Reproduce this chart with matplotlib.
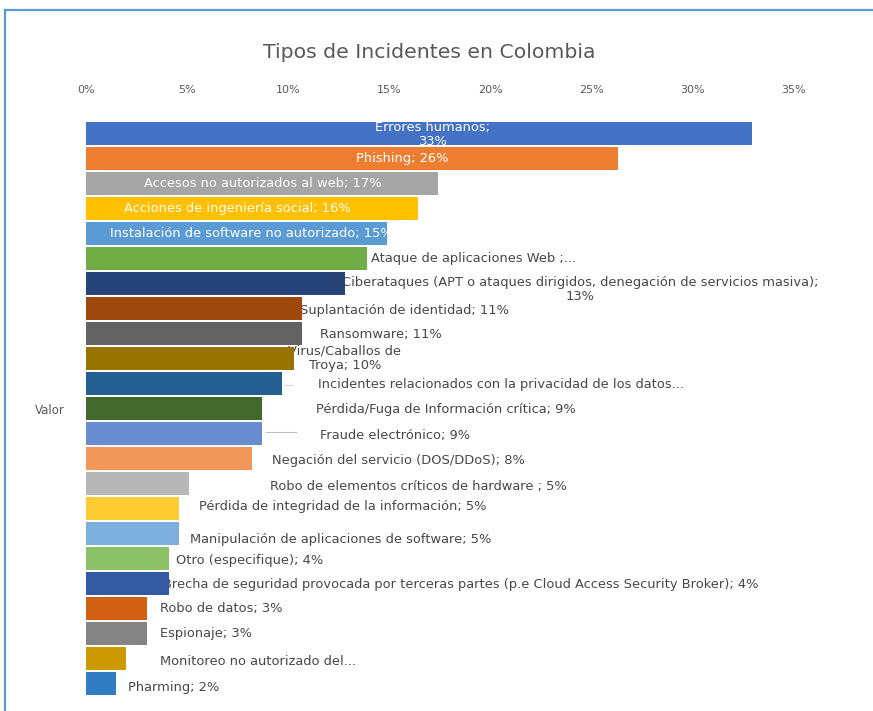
import matplotlib
matplotlib.use("Agg")
import matplotlib.pyplot as plt
from matplotlib.lines import Line2D
from matplotlib.ticker import FuncFormatter

plt.rcParams['font.family'] = ['DejaVu Sans']

# ---------------- data ----------------
categories = [
    "Errores humanos", "Phishing", "Accesos no autorizados al web",
    "Acciones de ingeniería social", "Instalación de software no autorizado",
    "Ataque de aplicaciones Web", "Ciberataques (APT o ataques dirigidos, denegación de servicios masiva)",
    "Suplantación de identidad", "Ransomware", "Virus/Caballos de Troya",
    "Incidentes relacionados con la privacidad de los datos",
    "Pérdida/Fuga de Información crítica", "Fraude electrónico",
    "Negación del servicio (DOS/DDoS)", "Robo de elementos críticos de hardware",
    "Pérdida de integridad de la información", "Manipulación de aplicaciones de software",
    "Otro (especifique)", "Brecha de seguridad provocada por terceras partes (p.e Cloud Access Security Broker)",
    "Robo de datos", "Espionaje", "Monitoreo no autorizado del", "Pharming",
]
values = [32.9, 26.3, 17.4, 16.4, 14.9, 13.9, 12.8, 10.7, 10.7, 10.3, 9.7, 8.7, 8.7,
          8.2, 5.1, 4.6, 4.6, 4.1, 4.1, 3.0, 3.0, 2.0, 1.5]
data_labels = [
    "Errores humanos;\n33%", "Phishing; 26%", "Accesos no autorizados al web; 17%",
    "Acciones de ingeniería social; 16%", "Instalación de software no autorizado; 15%",
    "Ataque de aplicaciones Web ;...",
    "Ciberataques (APT o ataques dirigidos, denegación de servicios masiva);\n13%",
    "Suplantación de identidad; 11%", "Ransomware; 11%", "Virus/Caballos de\nTroya; 10%",
    "Incidentes relacionados con la privacidad de los datos...",
    "Pérdida/Fuga de Información crítica; 9%", "Fraude electrónico; 9%",
    "Negación del servicio (DOS/DDoS); 8%", "Robo de elementos críticos de hardware ; 5%",
    "Pérdida de integridad de la información; 5%", "Manipulación de aplicaciones de software; 5%",
    "Otro (especifique); 4%",
    "Brecha de seguridad provocada por terceras partes (p.e Cloud Access Security Broker); 4%",
    "Robo de datos; 3%", "Espionaje; 3%", "Monitoreo no autorizado del...", "Pharming; 2%",
]
xticks = [0, 5, 10, 15, 20, 25, 30, 35]
title = "Tipos de Incidentes en Colombia"
axis_label = "Valor"

# ---------------- style / layout ----------------
colors = ["#4472C4", "#ED7D31", "#A5A5A5", "#FFC000", "#5B9BD5", "#70AD47",
          "#264478", "#9E480E", "#636363", "#997300", "#255E91", "#43682B",
          "#698ED0", "#F1975A", "#B7B7B7", "#FFCD33", "#7CAFDD", "#8CC168",
          "#335AA1", "#D26012", "#848484", "#CC9A00", "#327DC2"]
# label anchor x (axis percent units), alignment and vertical pixel offset
label_x = [17.15, 15.62, 8.75, 7.46, 8.16, 14.09, 24.42, 10.58, 11.57, 12.80, 11.47, 11.37,
           11.57, 9.19, 9.10, 5.59, 5.14, 4.45, 3.81, 3.66, 3.66, 3.66, 2.08]
label_ha = ["center"] * 5 + ["left", "center", "left", "left", "center"] + ["left"] * 13
label_dy = [1, 0, 0, 0, 0, 0, 6, 2, 1, 0, 1, 1, 2, 2, 3, -2, 6, 2, 1, 0, 0, 3, 4]
inside = [True, True, True, True, True] + [False] * 18

W, H = 873, 711
fig = plt.figure(figsize=(W / 100, H / 100), dpi=100)
fig.patch.set_facecolor("white")

ax_left, ax_right = 86, 794
ax_top, ax_bottom = 121, 696
ax = fig.add_axes([ax_left / W, 1 - ax_bottom / H, (ax_right - ax_left) / W, (ax_bottom - ax_top) / H])
n = len(values)
ypos = list(range(n))
ax.barh(ypos, values, height=0.94, color=colors, zorder=2)
ax.set_ylim(n - 0.5, -0.5)
ax.set_xlim(0, 35)
ax.set_xticks(xticks)
ax.xaxis.set_major_formatter(FuncFormatter(lambda v, p: f"{int(v)}%"))
ax.xaxis.tick_top()
ax.tick_params(axis="x", length=0, labelsize=8, labelcolor="#595959", pad=19)
ax.set_yticks([])
for s in ax.spines.values():
    s.set_visible(False)

px_per_bar = (ax_bottom - ax_top) / n
for i, (lab, lx, ha, dy, ins) in enumerate(zip(data_labels, label_x, label_ha, label_dy, inside)):
    ax.text(lx, i + dy / px_per_bar, lab, ha=ha, va="center", multialignment="center",
            fontsize=9.4, color="white" if ins else "#484848",
            zorder=3 if ins else 1, linespacing=1.1)

# leader lines
ax.plot([8.9, 10.4], [12 - 0.05, 12 - 0.05], color="#BFBFBF", lw=0.8, zorder=1)
ax.plot([9.8, 10.2], [10 + 0.05, 10 + 0.05], color="#D9D9D9", lw=0.8, zorder=1)

fig.text(429 / W, 1 - 52 / H, title, ha="center", va="center", fontsize=14.7, color="#595959")
fig.text(50 / W, 1 - 410 / H, axis_label, ha="center", va="center", fontsize=8.5, color="#595959")

# outer frame (top and left)
fig.add_artist(Line2D([5 / W, 1], [1 - 10 / H, 1 - 10 / H], color="#5B9BD5", lw=1.6, transform=fig.transFigure))
fig.add_artist(Line2D([5 / W, 5 / W], [0, 1 - 10 / H], color="#5B9BD5", lw=1.6, transform=fig.transFigure))

fig.savefig("out.png", dpi=100)
